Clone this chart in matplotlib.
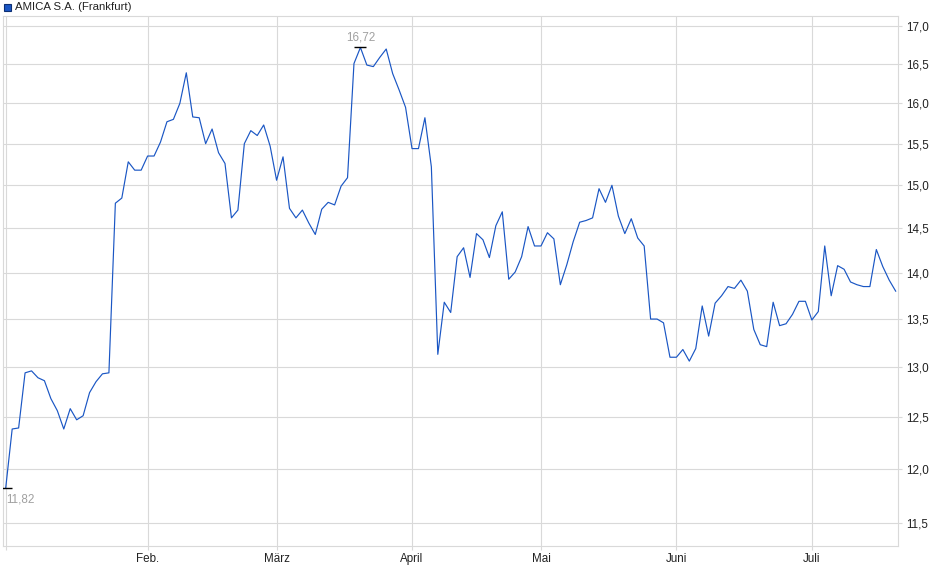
import numpy as np
import matplotlib
matplotlib.use("Agg")
from matplotlib import pyplot as plt
from matplotlib.ticker import FixedLocator, FuncFormatter, NullLocator

# Kursdaten (Handelstage, Jan. bis Juli)
kurse = [
    11.82, 12.38, 12.39, 12.94, 12.96, 12.89, 12.86, 12.68, 12.56, 12.38,
    12.58, 12.47, 12.51, 12.74, 12.85, 12.93, 12.94, 14.79, 14.85, 15.28,
    15.18, 15.18, 15.35, 15.35, 15.52, 15.77, 15.80, 16.00, 16.39, 15.83,
    15.82, 15.50, 15.68, 15.39, 15.26, 14.62, 14.71, 15.50, 15.66, 15.60,
    15.73, 15.47, 15.06, 15.34, 14.73, 14.62, 14.71, 14.56, 14.43, 14.72,
    14.80, 14.77, 14.99, 15.09, 16.51, 16.72, 16.49, 16.47, 16.59, 16.70,
    16.38, 16.17, 15.95, 15.44, 15.44, 15.82, 15.22, 13.13, 13.68, 13.57,
    14.18, 14.28, 13.95, 14.44, 14.37, 14.17, 14.53, 14.69, 13.93, 14.01,
    14.18, 14.52, 14.30, 14.30, 14.45, 14.38, 13.87, 14.09, 14.35, 14.57,
    14.59, 14.62, 14.96, 14.80, 15.00, 14.64, 14.44, 14.61, 14.39, 14.30,
    13.50, 13.50, 13.46, 13.10, 13.10, 13.18, 13.06, 13.19, 13.64, 13.32,
    13.67, 13.75, 13.85, 13.83, 13.92, 13.80, 13.39, 13.23, 13.21, 13.68,
    13.43, 13.45, 13.55, 13.69, 13.69, 13.49, 13.58, 14.30, 13.75, 14.08,
    14.04, 13.90, 13.87, 13.85, 13.85, 14.26, 14.07, 13.92, 13.80,
]

# erster Handelstag je Monat (Index in kurse)
monatsStart = [0, 22, 42, 63, 83, 104, 125]
monatsNamen = ["", "Feb.", "März", "April", "Mai", "Juni", "Juli"]
yTicks = [11.5, 12.0, 12.5, 13.0, 13.5, 14.0, 14.5, 15.0, 15.5, 16.0, 16.5, 17.0]
titel = "AMICA S.A. (Frankfurt)"

linienFarbe = "#1a56c4"
gitterFarbe = "#d9d9d9"
labelFarbe = "#a0a0a0"

plt.rcParams["font.family"] = ["Liberation Sans", "DejaVu Sans"]

fig = plt.figure(figsize=(9.4, 5.79), dpi=100)
ax = fig.add_axes([2.7 / 940, (579 - 546) / 579, (898 - 2.7) / 940, (546 - 16) / 579])

x = np.arange(len(kurse))
ax.plot(x, kurse, color=linienFarbe, linewidth=0.85, zorder=3)

# Achsen
ax.set_yscale("log")
ax.set_ylim(11.29, 17.14)
ax.set_xlim(-0.47, len(kurse) - 1 + 0.36)
ax.yaxis.set_major_locator(FixedLocator(yTicks))
ax.yaxis.set_minor_locator(NullLocator())
ax.yaxis.set_major_formatter(FuncFormatter(lambda v, p: f"{v:.1f}".replace(".", ",")))
ax.yaxis.tick_right()
ax.set_xticks(monatsStart)
ax.set_xticklabels(monatsNamen)
ax.tick_params(axis="both", labelsize=8.4, colors="#222222", length=3, color=gitterFarbe)
ax.tick_params(axis="y", pad=3)
ax.tick_params(axis="x", pad=2)
ax.grid(True, color=gitterFarbe, linewidth=0.8, zorder=0)
for s in ax.spines.values():
    s.set_color(gitterFarbe)
    s.set_linewidth(0.8)

# Hoch / Tief markieren
iMax = int(np.argmax(kurse))
iMin = int(np.argmin(kurse))
ax.plot([iMax], [kurse[iMax]], marker="_", markersize=9, color="black", mew=1.0, zorder=4)
ax.plot([iMin], [kurse[iMin]], marker="_", markersize=9, color="black", mew=1.0, zorder=4)
ax.annotate(f"{kurse[iMax]:.2f}".replace(".", ","), (iMax, kurse[iMax]), xytext=(0, 3),
            textcoords="offset points", ha="center", va="bottom", fontsize=8.4, color=labelFarbe)
ax.annotate(f"{kurse[iMin]:.2f}".replace(".", ","), (iMin, kurse[iMin]), xytext=(0.5, -4),
            textcoords="offset points", ha="left", va="top", fontsize=8.4, color=labelFarbe)

# Legende oben links
fig.patches.append(plt.Rectangle((4 / 940, 1 - 11 / 579), 7 / 940, 7 / 579, transform=fig.transFigure,
                                 facecolor=linienFarbe, edgecolor="#0d2f73", linewidth=0.8))
fig.text(15 / 940, 1 - 6.5 / 579, titel, fontsize=8.2, color="#222222", va="center", ha="left")

fig.savefig("out.png", dpi=100)
